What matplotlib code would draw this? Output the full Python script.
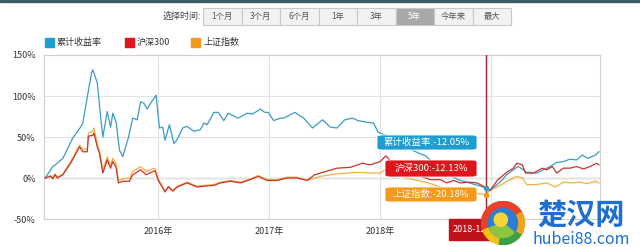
import matplotlib
matplotlib.use("Agg")
import matplotlib.pyplot as plt
from matplotlib.patches import Rectangle, FancyBboxPatch, Wedge

plt.rcParams['font.family'] = ['Noto Sans CJK SC', 'DejaVu Sans']

# data (x in decimal years, y in %)
fund_x = [2014.98, 2015.05, 2015.09, 2015.14, 2015.23, 2015.30, 2015.32, 2015.36, 2015.40, 2015.41,
          2015.45, 2015.48, 2015.50, 2015.54, 2015.57, 2015.59, 2015.62, 2015.65, 2015.68, 2015.73,
          2015.77, 2015.81, 2015.84, 2015.87, 2015.90, 2015.93, 2015.98, 2016.01, 2016.04, 2016.06,
          2016.10, 2016.14, 2016.17, 2016.22, 2016.26, 2016.32, 2016.38, 2016.41, 2016.44, 2016.50,
          2016.54, 2016.59, 2016.63, 2016.72, 2016.80, 2016.85, 2016.92, 2016.96, 2016.99, 2017.04,
          2017.10, 2017.13, 2017.23, 2017.31, 2017.39, 2017.48, 2017.55, 2017.61, 2017.68, 2017.75,
          2017.80, 2017.88, 2017.94, 2017.98, 2018.05, 2018.20, 2018.35, 2018.41, 2018.50, 2018.60,
          2018.70, 2018.80, 2018.88, 2018.95, 2018.99, 2019.08, 2019.14, 2019.20, 2019.24, 2019.28,
          2019.31, 2019.35, 2019.41, 2019.47, 2019.53, 2019.59, 2019.65, 2019.71, 2019.77, 2019.82,
          2019.87, 2019.94, 2019.97]
fund_y = [0, 14, 18, 24, 49, 62, 67, 99, 129, 132,
          116, 75, 50, 81, 62, 79, 68, 34, 26, 49,
          73, 71, 93, 91, 84, 91, 101, 61, 62, 46,
          65, 42, 47, 61, 63, 57, 59, 67, 65, 80,
          80, 70, 79, 73, 79, 78, 84, 80, 80, 70,
          73, 73, 80, 73, 61, 71, 62, 61, 71, 73,
          70, 68, 67, 56, 52, 40, 30, 27, 15, 5,
          -2, -6, -9, -12.05, -15, -5, 4, 10, 14, 11,
          7, 7, 6, 10, 14, 19, 20, 23, 22, 28,
          24, 28, 32]

hs300_x = [2014.98, 2015.03, 2015.05, 2015.07, 2015.09, 2015.14, 2015.21, 2015.29, 2015.32, 2015.36,
           2015.37, 2015.41, 2015.42, 2015.45, 2015.47, 2015.50, 2015.54, 2015.57, 2015.59, 2015.62,
           2015.64, 2015.68, 2015.74, 2015.77, 2015.84, 2015.89, 2015.97, 2016.00, 2016.06, 2016.09,
           2016.13, 2016.17, 2016.26, 2016.35, 2016.41, 2016.50, 2016.56, 2016.65, 2016.74, 2016.83,
           2016.90, 2016.98, 2017.07, 2017.16, 2017.25, 2017.34, 2017.41, 2017.46, 2017.61, 2017.73,
           2017.84, 2017.91, 2018.00, 2018.05, 2018.10, 2018.20, 2018.30, 2018.41, 2018.45, 2018.54,
           2018.60, 2018.66, 2018.72, 2018.80, 2018.87, 2018.93, 2018.95, 2018.99, 2019.06, 2019.14,
           2019.20, 2019.23, 2019.28, 2019.31, 2019.38, 2019.46, 2019.50, 2019.55, 2019.59, 2019.65,
           2019.71, 2019.77, 2019.83, 2019.89, 2019.95, 2019.97]
hs300_y = [0, 2, -1, 4, 0, 4, 18, 38, 32, 32,
           51, 52, 55, 38, 30, 6, 22, 12, 20, 13,
           -6, -4, -4, 4, 10, 4, 9, -3, -17, -11,
           -16, -11, -6, -11, -10, -9, -6, -4, -6, -2,
           2, -3, -3, 0, 0, -3, 4, 6, 12, 13,
           18, 16, 20, 27, 20, 12, 5, 0, -2, -2,
           -6, -3, -6, -5, -6, -10, -12.13, -15, -2, 7,
           12, 18, 16, 6, 6, 12, 10, 14, 6, 12,
           12, 14, 11, 14, 18, 16]

sh_x = [2014.98, 2015.03, 2015.05, 2015.07, 2015.09, 2015.14, 2015.21, 2015.29, 2015.32, 2015.36,
        2015.37, 2015.41, 2015.42, 2015.45, 2015.47, 2015.50, 2015.54, 2015.57, 2015.59, 2015.62,
        2015.64, 2015.68, 2015.74, 2015.77, 2015.84, 2015.89, 2015.97, 2016.00, 2016.06, 2016.09,
        2016.13, 2016.17, 2016.26, 2016.35, 2016.41, 2016.50, 2016.56, 2016.65, 2016.74, 2016.83,
        2016.90, 2016.98, 2017.07, 2017.16, 2017.25, 2017.34, 2017.46, 2017.61, 2017.79, 2017.91,
        2018.00, 2018.05, 2018.10, 2018.20, 2018.30, 2018.41, 2018.50, 2018.60, 2018.72, 2018.80,
        2018.88, 2018.95, 2018.99, 2019.08, 2019.17, 2019.23, 2019.28, 2019.32, 2019.41, 2019.50,
        2019.58, 2019.65, 2019.73, 2019.80, 2019.86, 2019.94, 2019.97]
sh_y = [0, 3, 0, 5, 1, 5, 20, 40, 35, 35,
        55, 57, 61, 42, 33, 10, 26, 16, 24, 17,
        -3, -1, 0, 8, 14, 8, 12, -1, -16, -10,
        -15, -10, -5, -10, -9, -8, -5, -3, -5, -1,
        3, -2, -2, 1, 1, -3, 2, 5, 7, 6,
        6, 11, 6, 2, -2, -5, -9, -14, -16, -17,
        -19, -20.18, -15, -9, -2, 2, 0, -8, -8, -6,
        -11, -5, -6, -5, -7, -4, -6]

y_ticks = [150, 100, 50, 0, -50]
year_ticks = [2016, 2017, 2018]
series_names = ["累计收益率", "沪深300", "上证指数"]
buttons = ["1个月", "3个月", "6个月", "1年", "3年", "5年", "今年来", "最大"]
cursor_x = 2018.95
cursor_date = "2018-12-14"

c_blue, c_red, c_orange = "#3a9cc4", "#c8342a", "#f2b043"
box_blue, box_red, box_orange = "#1d9dd0", "#e0141a", "#f39a1c"

W, H = 640, 247
fig = plt.figure(figsize=(W / 100, H / 100), dpi=100)


def fx(x):
    return x / W


def fy(y):
    return 1 - y / H


# top strip
fig.patches.append(Rectangle((0, fy(2)), 1, 2 / H, transform=fig.transFigure, color="#3c5d68"))

# time selector
fig.text(fx(201), fy(16), "选择时间:", ha="right", va="center", fontsize=6.5, color="#444")
bx0, bw = 203, 38.5
for i, b in enumerate(buttons):
    sel = b == "5年"
    fig.patches.append(Rectangle((fx(bx0 + i * bw), fy(25)), bw / W, 17 / H, transform=fig.transFigure,
                                 facecolor="#a8a8a8" if sel else "#f2f2f2", edgecolor="#c8c8c8", lw=0.8))
    fig.text(fx(bx0 + i * bw + bw / 2), fy(16.5), b, ha="center", va="center", fontsize=6,
             color="white" if sel else "#555")

# legend
for (lx, name, col) in [(45, series_names[0], box_blue), (125, series_names[1], box_red),
                        (191, series_names[2], box_orange)]:
    fig.patches.append(Rectangle((fx(lx), fy(47)), 9 / W, 9 / H, transform=fig.transFigure, color=col))
    fig.text(fx(lx + 12), fy(42.5), name, ha="left", va="center", fontsize=6.5, color="#333")

ax = fig.add_axes([fx(44), fy(219), 556 / W, 164 / H])
ax.plot(fund_x, fund_y, color=c_blue, lw=0.9, zorder=3)
ax.plot(hs300_x, hs300_y, color=c_red, lw=0.9, zorder=3)
ax.plot(sh_x, sh_y, color=c_orange, lw=0.9, zorder=2)

ax.set_xlim(2014.97, 2019.98)
ax.set_ylim(-50, 150)
ax.set_yticks(y_ticks)
ax.set_yticklabels([f"{v}%" for v in y_ticks])
ax.set_xticks(year_ticks)
ax.set_xticklabels([f"{v}年" for v in year_ticks])
ax.tick_params(length=0, labelsize=6.5, colors="#333", pad=6)
ax.grid(True, color="#e2e2e2", lw=0.8)
ax.axvline(2019, color="#e2e2e2", lw=0.8, zorder=0)  # its label sits under the date box
ax.axhline(0, color="#a0a0a0", lw=0.9, zorder=1)
for s in ax.spines.values():
    s.set_color("#d0d0d0")
    s.set_linewidth(0.8)

# cursor line and markers
ax.axvline(cursor_x, color="#a4231c", lw=1.0, zorder=4)
ax.plot([cursor_x], [fund_y[fund_x.index(cursor_x)]], "o", ms=3, color=c_blue, zorder=5)
ax.plot([cursor_x], [sh_y[sh_x.index(cursor_x)]], "o", ms=3, color=box_orange, zorder=5)

# tooltips
tips = [(377, 135, 100, 15, box_blue, f"{series_names[0]}:{fund_y[fund_x.index(cursor_x)]:.2f}%"),
        (385, 160, 92, 17, box_red, f"{series_names[1]}:{hs300_y[hs300_x.index(cursor_x)]:.2f}%"),
        (385, 187, 92, 15, box_orange, f"{series_names[2]}:{sh_y[sh_x.index(cursor_x)]:.2f}%")]
for (tx, ty, tw, th, col, txt) in tips:
    fig.patches.append(FancyBboxPatch((fx(tx), fy(ty + th)), tw / W, th / H, transform=fig.transFigure,
                                      boxstyle="round,pad=0,rounding_size=0.008", facecolor=col,
                                      edgecolor="white", lw=0.6, zorder=10))
    fig.text(fx(tx + tw / 2), fy(ty + th / 2), txt, ha="center", va="center", fontsize=6.8,
             color="white", zorder=11)

# date box (partly hidden by the watermark logo, as in the screenshot)
fig.patches.append(Rectangle((fx(449), fy(240)), 50 / W, 21 / H, transform=fig.transFigure,
                             color="#c0121a", zorder=10))
fig.text(fx(453), fy(229.5), cursor_date, ha="left", va="center", fontsize=6.5, color="white", zorder=11)

# watermark
logo = fig.add_axes([fx(481), fy(245), 44 / W, 44 / H])
logo.set_zorder(20)
logo.set_xlim(-1, 1)
logo.set_ylim(-1, 1)
logo.set_aspect("equal")
logo.axis("off")
for a0, a1, col in [(30, 120, "#e8402a"), (120, 200, "#e8402a"), (200, 260, "#f3c21a"),
                    (260, 330, "#3aa043"), (330, 390, "#f3a21a")]:
    logo.add_patch(Wedge((0, 0), 0.98, a0, a1, width=0.32, color=col))
logo.add_patch(Wedge((0, 0), 0.66, 0, 360, color="#2a7fd0"))
logo.add_patch(Wedge((0, 0), 0.66, 200, 320, color="#8cc63f"))
logo.add_patch(Wedge((-0.1, 0.15), 0.3, 0, 360, color="#f5d43a"))
fig.text(fx(581), fy(214.5), "楚汉网", ha="center", va="center", fontsize=21, fontweight="bold",
         color="#1e6fd0", zorder=22)
fig.text(fx(581), fy(239.5), "hubei88.com", ha="center", va="center", fontsize=11.5,
         color="#1e6fd0", zorder=22)

fig.savefig("out.png", dpi=100)
